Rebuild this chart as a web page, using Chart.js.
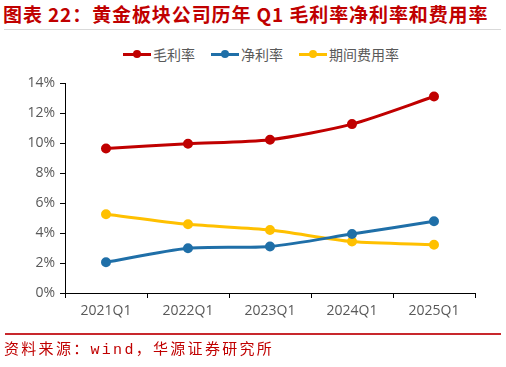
<!DOCTYPE html>
<html>
<head>
<meta charset="utf-8">
<script src="https://cdn.jsdelivr.net/npm/chart.js@4.4.1/dist/chart.umd.min.js"></script>
<style>
  html, body { margin: 0; padding: 0; background: #fff; }
  #wrap { position: relative; width: 506px; height: 367px; overflow: hidden; }
  #title {
    position: absolute; left: 3px; top: 2px; white-space: nowrap;
    font-family: "Noto Sans CJK SC", sans-serif; font-weight: 700;
    font-size: 19px; color: #c00000; letter-spacing: 0.9px; line-height: 24px;
  }
  #rule1 { position: absolute; left: 4px; top: 29px; width: 497px; height: 1px; background: #d9d9d9; }
  #rule2 { position: absolute; left: 5px; top: 333px; width: 496px; height: 2px; background: #c8282d; }
  #source {
    position: absolute; left: 4px; top: 341px; white-space: nowrap;
    font-family: "Liberation Mono", "Noto Sans CJK SC", monospace;
    font-size: 15px; color: #c00000; letter-spacing: 2.3px; line-height: 20px;
  }
  #legend {
    position: absolute; left: 8px; top: 45px; width: 506px; display: flex; justify-content: center;
    font-family: "Noto Sans CJK SC", sans-serif; font-size: 14px; color: #595959; line-height: 18px;
  }
  .item { display: flex; align-items: center; margin: 0 8px; }
  .sw { position: relative; width: 28px; height: 3px; margin-right: 2px; }
  .sw i { position: absolute; left: 10px; top: -2.5px; width: 8px; height: 8px; border-radius: 50%; }
  canvas { position: absolute; left: 0; top: 0; }
</style>
</head>
<body>
<div id="wrap">
  <div id="title">图表 22：黄金板块公司历年 Q1 毛利率净利率和费用率</div>
  <div id="rule1"></div>
  <div id="legend"></div>
  <canvas id="myChart" width="506" height="367"></canvas>
  <div id="rule2"></div>
  <div id="source">资料来源：wind，华源证券研究所</div>
</div>
<script>
// ===================== 黄金板块 Q1 毛利率 / 净利率 / 费用率 =====================
var categories = ['2021Q1', '2022Q1', '2023Q1', '2024Q1', '2025Q1'];
var grossMargin = [9.63, 9.95, 10.22, 11.26, 13.1];
var netMargin = [2.05, 2.98, 3.1, 3.93, 4.78];
var expenseRate = [5.25, 4.58, 4.2, 3.43, 3.22];
var yTicks = [0, 2, 4, 6, 8, 10, 12, 14];

var seriesNames = ['毛利率', '净利率', '期间费用率'];
var seriesColors = ['#c00000', '#1f6fa8', '#ffc000'];

// html legend
var legend = document.getElementById('legend');
seriesNames.forEach(function (name, i) {
    var item = document.createElement('div');
    item.className = 'item';
    item.innerHTML = '<span class="sw" style="background:' + seriesColors[i] + '"><i style="background:' +
        seriesColors[i] + '"></i></span>' + name;
    legend.appendChild(item);
});

function makeSet(label, data, color) {
    return {
        label: label,
        data: data,
        borderColor: color,
        backgroundColor: color,
        borderWidth: 3,
        pointRadius: 3.5,
        pointHoverRadius: 3.5,
        tension: 0.25,
        fill: false
    };
}

new Chart(document.getElementById('myChart'), {
    type: 'line',
    data: {
        labels: categories,
        datasets: [
            makeSet(seriesNames[0], grossMargin, seriesColors[0]),
            makeSet(seriesNames[1], netMargin, seriesColors[1]),
            makeSet(seriesNames[2], expenseRate, seriesColors[2])
        ]
    },
    options: {
        responsive: false,
        animation: false,
        layout: { padding: { left: 0, top: 83, right: 31, bottom: 40 } },
        plugins: {
            legend: { display: false },
            tooltip: { enabled: false }
        },
        scales: {
            x: {
                offset: true,
                grid: {
                    display: true,
                    offset: true,
                    drawOnChartArea: false,
                    drawTicks: true,
                    tickLength: 5,
                    color: '#000',
                    lineWidth: 1
                },
                border: { display: true, color: '#000', width: 1 },
                ticks: {
                    color: '#595959',
                    padding: 5,
                    font: { family: 'Open Sans, Noto Sans, sans-serif', size: 14 }
                },
                afterFit: function (scale) { scale.height = 34; }
            },
            y: {
                min: 0,
                max: 14,
                afterBuildTicks: function (scale) {
                    scale.ticks = yTicks.map(function (v) { return { value: v }; });
                },
                grid: {
                    display: true,
                    drawOnChartArea: false,
                    drawTicks: true,
                    tickLength: 5,
                    color: '#000'
                },
                border: { display: true, color: '#000', width: 1 },
                ticks: {
                    color: '#595959',
                    padding: 5,
                    font: { family: 'Open Sans, Noto Sans, sans-serif', size: 14 },
                    callback: function (v) { return v + '%'; }
                },
                afterFit: function (scale) { scale.width = 65; }
            }
        }
    }
});
</script>
</body>
</html>
